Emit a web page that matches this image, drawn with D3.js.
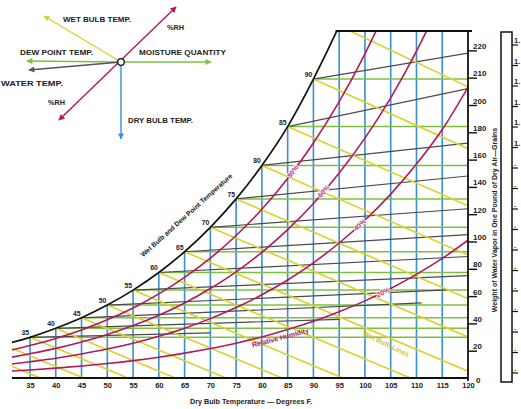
<!DOCTYPE html>
<html><head><meta charset="utf-8">
<script src="https://cdn.jsdelivr.net/npm/d3@7"></script>
<style>
body{margin:0;background:#fff}
svg{display:block;font-family:"Liberation Sans",Arial,sans-serif;font-weight:bold}
</style></head>
<body><svg id="c" width="521" height="409"></svg>
<script>
// ---------- data ----------
const dryBulbTicks = [35,40,45,50,55,60,65,70,75,80,85,90,95,100,105,110,115,120];
const grainTicks = [0,20,40,60,80,100,120,140,160,180,200,220,240];
const grainTickLabels = ["0","20","40","60","80","100","120","140","160","180","200","210","220"];

const satTemps  = [31.5,35,40,45,50,55,60,65,70,75,80,85,90,95,100];
const satGrains = [26,29.8,36.4,44.1,53.4,64.4,77.3,92.5,110.4,131.2,155.7,184.2,219,258,301];
const satLabels = [35,40,45,50,55,60,65,70,75,80,85,90];

const rhTemps = [31.5,35,40,45,50,55,60,65,70,75,80,85,90,95,100,105,110,115,120];
const rh80 = [20.5,23.8,29,35.2,42.6,51.3,61.6,73.7,87.8,104.4,123.6,146.1,172.2,202.4,237.5,278,325,380,442];
const rh60 = [15.3,17.8,21.7,26.4,31.9,38.4,46,55,65.6,77.8,92.1,108.7,127.9,150.1,175.7,205.2,239.4,279,324];
const rh40 = [10.2,11.9,14.5,17.6,21.2,25.5,30.6,36.5,43.5,51.6,61,71.8,84.4,98.9,115.6,134.7,156.7,182,213];
const rh20 = [5.1,5.9,7.2,8.8,10.6,12.7,15.2,18.2,21.6,25.5,30.1,35.5,41.6,48.6,56.5,65.6,75.9,87.6,101];
const rhNames = ["80%","60%","40%","20%"];
const rhLabelTemps = [86,92,99,103.5];

const wbTemps   = [25,30,35,40,45,50,55,60,65,70,75,80,85,90,95];
const wbStartW  = [18.7,24.1,29.8,36.4,44.1,53.4,64.4,77.3,92.5,110.4,131.2,155.7,184.2,219,258];
const wbEndT    = [37,45.4,54,63.2,73,83.9,95.7,108.8,120,120,120,120,120,120,120];
const wbEndW    = [0,0,0,0,0,0,0,0,5,30.1,58.2,90.1,126.1,168,213.3];

const dewTemps = [35,40,45,50,55,60,65,70,75,80,85,90];

const grayStartT = [35,40,45,50,55,60,65,70,75,80,85,90];
const grayEndT   = [70,95,111,116,120,120,120,120,120,120,120,120];
const grayEndW   = [33,43,55,64.5,75,89,105,124,148,172,212,238];

const sideLabels = ["1.","1.","1.","1.","1.","1.",".",".",".",".",".",".",".",".",".",".","."];

// ---------- setup ----------
const C = {blue:"#3b8fd3", green:"#7dc040", yellow:"#d9d22b", red:"#b2195b", gray:"#4a4a4a", black:"#111"};
const svg = d3.select("#c");
const x = d3.scaleLinear().domain([35,120]).range([30,468]);
const y = d3.scaleLinear().domain([0,240]).range([378,50.4]);
const topW = y.invert(31);
const satAt = d3.scaleLinear().domain(satTemps).range(satGrains);

svg.append("defs").append("clipPath").attr("id","plot")
  .append("rect").attr("x",x(31.5)).attr("y",31).attr("width",x(120)-x(31.5)).attr("height",y(0)-31);

const g = svg.append("g").attr("clip-path","url(#plot)");

// vertical dry-bulb lines
g.selectAll(".db").data(dryBulbTicks.filter(t=>t<120)).join("line")
  .attr("x1",d=>x(d)).attr("x2",d=>x(d)).attr("y1",y(0))
  .attr("y2",d=>y(Math.min(satAt(d),topW)))
  .attr("stroke",C.blue).attr("stroke-width",1.6);

// dew point (green) lines
g.selectAll(".dp").data(dewTemps).join("line")
  .attr("x1",d=>x(d)).attr("x2",x(120))
  .attr("y1",d=>y(satAt(d))).attr("y2",d=>y(satAt(d)))
  .attr("stroke",C.green).attr("stroke-width",1.5);

// gray lines
g.selectAll(".gr").data(grayStartT).join("line")
  .attr("x1",d=>x(d)).attr("y1",d=>y(satAt(d)))
  .attr("x2",(d,i)=>x(grayEndT[i])).attr("y2",(d,i)=>y(grayEndW[i]))
  .attr("stroke",C.gray).attr("stroke-width",1.2);

// wet bulb lines
g.selectAll(".wb").data(wbTemps).join("line")
  .attr("x1",d=>x(d)).attr("y1",(d,i)=>y(wbStartW[i]))
  .attr("x2",(d,i)=>x(wbEndT[i])).attr("y2",(d,i)=>y(wbEndW[i]))
  .attr("stroke",C.yellow).attr("stroke-width",1.6);

// RH curves
const rhSets = [rh80,rh60,rh40,rh20];
const rhLine = d3.line().x(d=>x(d[0])).y(d=>y(d[1])).curve(d3.curveMonotoneX);
rhSets.forEach(ws=>{
  g.append("path").attr("d",rhLine(rhTemps.map((t,i)=>[t,ws[i]])))
   .attr("fill","none").attr("stroke",C.red).attr("stroke-width",1.6);
});

// saturation curve
g.append("path").attr("d",rhLine(satTemps.map((t,i)=>[t,satGrains[i]])))
  .attr("fill","none").attr("stroke",C.black).attr("stroke-width",1.7);

// RH labels
rhSets.forEach((ws,k)=>{
  const f = d3.scaleLinear().domain(rhTemps).range(ws);
  const t = rhLabelTemps[k];
  const px = x(t), py = y(f(t));
  const ang = Math.atan2(y(f(t+1))-y(f(t-1)), x(t+1)-x(t-1))*180/Math.PI;
  svg.append("text").attr("transform",`translate(${px},${py}) rotate(${ang})`)
    .attr("text-anchor","middle").attr("dy","0.35em").attr("font-size",7)
    .attr("fill","#c0307a").attr("stroke","#fff").attr("stroke-width",1.6)
    .attr("paint-order","stroke").text(rhNames[k]);
});

// frame
svg.append("line").attr("x1",x(31.5)).attr("x2",x(120)).attr("y1",y(0)).attr("y2",y(0))
  .attr("stroke",C.black).attr("stroke-width",2);
svg.append("line").attr("x1",x(120)).attr("x2",x(120)).attr("y1",31).attr("y2",y(0)+3)
  .attr("stroke",C.black).attr("stroke-width",1.8);
svg.append("line").attr("x1",x(94.3)).attr("x2",x(120)+4).attr("y1",31).attr("y2",31)
  .attr("stroke",C.black).attr("stroke-width",1.8);

// bottom axis
const bx = svg.append("g").attr("transform",`translate(0,${y(0)})`)
  .call(d3.axisBottom(x).tickValues(dryBulbTicks).tickSize(0).tickPadding(5));
bx.select(".domain").remove();
bx.selectAll("text").attr("font-size",7.5).attr("font-family",null).attr("fill","#222");

// right axis
const ry = svg.append("g").attr("transform",`translate(${x(120)},0)`)
  .call(d3.axisRight(y).tickValues(grainTicks).tickSize(9).tickFormat((d,i)=>grainTickLabels[i]));
ry.select(".domain").remove();
ry.selectAll("line").attr("stroke",C.black).attr("stroke-width",1.4);
ry.selectAll("text").attr("font-size",8).attr("font-family",null).attr("fill","#222")
  .attr("x",5).attr("dy","-0.25em");
ry.selectAll(".tick").filter(d=>d===0).select("line").remove();
ry.selectAll(".tick").filter(d=>d===0).select("text").attr("x",8).attr("dy","0.5em");

// saturation labels
svg.selectAll(".sl").data(satLabels).join("text")
  .attr("x",d=>x(d)-1).attr("y",d=>y(satAt(d))-2).attr("text-anchor","end")
  .attr("font-size",6.8).attr("fill","#222").text(d=>d);

// titles
svg.append("text").attr("transform","translate(188,217) rotate(-42)").attr("text-anchor","middle")
  .attr("font-size",6.8).attr("fill","#222").text("Wet Bulb and Dew Point Temperature");
svg.append("text").attr("x",251).attr("y",404).attr("text-anchor","middle")
  .attr("font-size",7.2).attr("fill","#222").text("Dry Bulb Temperature — Degrees F.");
svg.append("text").attr("transform","translate(497,220) rotate(-90)").attr("text-anchor","middle")
  .attr("font-size",7).attr("fill","#222").text("Weight of Water Vapor in One Pound of Dry Air—Grains");
svg.append("text").attr("transform","translate(281,340) rotate(-15)").attr("text-anchor","middle")
  .attr("font-size",7).attr("fill",C.red).text("Relative Humidity");
svg.append("text").attr("transform","translate(385,346) rotate(26)").attr("text-anchor","middle")
  .attr("font-size",7).attr("fill","#cfc42a").text("Wet Bulb Lines");

// right side panel
svg.append("rect").attr("x",501).attr("y",32).attr("width",11).attr("height",350)
  .attr("fill","none").attr("stroke",C.black).attr("stroke-width",1.5);
const sy = d3.scalePoint().domain(d3.range(sideLabels.length)).range([45,373]);
svg.selectAll(".sk").data(sideLabels).join("line")
  .attr("x1",512).attr("x2",518).attr("y1",(d,i)=>sy(i)).attr("y2",(d,i)=>sy(i))
  .attr("stroke",C.black).attr("stroke-width",1.2);
svg.selectAll(".st").data(sideLabels).join("text")
  .attr("x",514).attr("y",(d,i)=>sy(i)-2).attr("font-size",7.5).attr("fill","#222").text(d=>d);

// legend
const defs = svg.select("defs");
Object.entries({y:C.yellow,r:C.red,g:C.green,k:"#555",b:C.blue}).forEach(([k,c])=>{
  defs.append("marker").attr("id","m"+k).attr("viewBox","0 0 10 10").attr("refX",9).attr("refY",5)
    .attr("markerWidth",7).attr("markerHeight",6).attr("orient","auto-start-reverse")
    .attr("markerUnits","userSpaceOnUse")
    .append("path").attr("d","M0,0L10,5L0,10z").attr("fill",c);
});
const cx=121, cy=62;
const arrows = [
  {to:[44,16],c:C.yellow,m:"y"},
  {to:[27,61],c:C.green,m:"g"},
  {to:[211,62],c:C.green,m:"g"},
  {to:[29,70],c:"#555",m:"k"},
  {to:[121,139],c:C.blue,m:"b"}
];
arrows.forEach(a=>{
  svg.append("line").attr("x1",cx).attr("y1",cy).attr("x2",a.to[0]).attr("y2",a.to[1])
    .attr("stroke",a.c).attr("stroke-width",1.4).attr("marker-end",`url(#m${a.m})`);
});
svg.append("line").attr("x1",59).attr("y1",120).attr("x2",176).attr("y2",7)
  .attr("stroke",C.red).attr("stroke-width",1.4)
  .attr("marker-end","url(#mr)").attr("marker-start","url(#mr)");
svg.append("circle").attr("cx",cx).attr("cy",cy).attr("r",3.3)
  .attr("fill","#fff").attr("stroke",C.black).attr("stroke-width",1.3);
const legendTexts = [
  ["WET BULB TEMP.",63,21.5,68],["%RH",167,30,17],["DEW POINT TEMP.",20,55,73],
  ["MOISTURE QUANTITY",139,55,87],["WATER TEMP.",1,86,62],["%RH",48,105,17],["DRY BULB TEMP.",128,123,65]
];
legendTexts.forEach(([t,lx,ly,w])=>{
  svg.append("text").attr("x",lx).attr("y",ly).attr("font-size",7.5).attr("fill","#222")
    .attr("textLength",w).attr("lengthAdjust","spacingAndGlyphs").text(t);
});
</script></body></html>
